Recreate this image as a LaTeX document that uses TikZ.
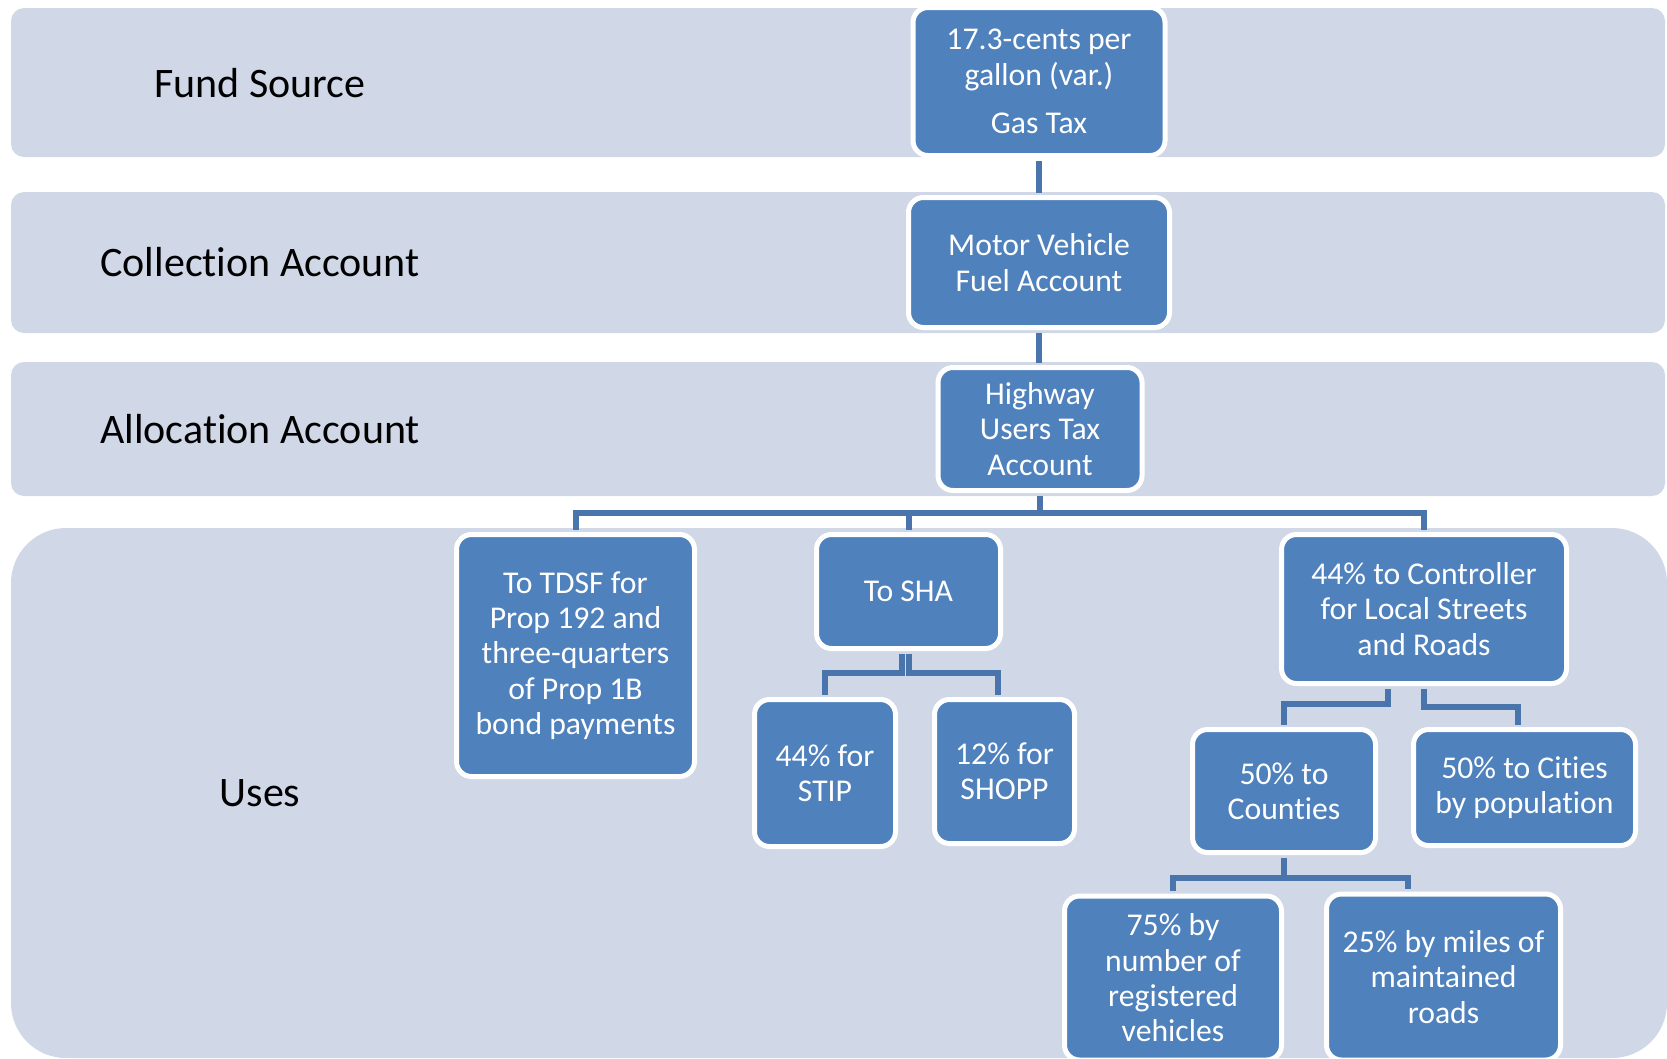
\documentclass[tikz,border=0pt]{standalone}
\usepackage{fontspec}
\setmainfont{Carlito}[RawFeature={-liga;-clig;-dlig;-calt}]
\definecolor{bandfill}{HTML}{D0D8E8}
\definecolor{boxfill}{HTML}{4F81BD}
\definecolor{linkblue}{HTML}{4A74AC}
\tikzset{
	band/.style={fill=bandfill,rounded corners=13},
	link/.style={draw=linkblue,line width=6,shorten <=2.5pt,shorten >=2.5pt},
}
\begin{document}
\begin{tikzpicture}[x=1pt,y=-1pt]
			\useasboundingbox (0,0) rectangle (1667,1058);
			% rows
			\fill[band] (11,8) rectangle (1665,157);
			\fill[band] (11,192) rectangle (1665,333);
			\fill[band] (11,362) rectangle (1665,496);
			\fill[band,rounded corners=55] (11,528) rectangle (1667,1058);
			\begin{scope}[every node/.style={text=black,font=\fontsize{42}{50}\selectfont}]
				\node (lfund) at (260,83) {Fund Source};
				\node (lcoll) at (260,262) {Collection Account};
				\node (lalloc) at (260,429) {Allocation Account};
				\node (luses) at (260,793) {Uses};
			\end{scope}
			\begin{scope}[every node/.style={rectangle,rounded corners=15,draw=white,line width=5,fill=boxfill,text=white,align=center,inner sep=0,font=\fontsize{31.7}{35.3}\selectfont}]
				\node[minimum width=252,minimum height=148] (gas) at (1039,81.5) {17.3-cents per\\gallon (var.)\\[13pt]Gas Tax};
				\node[minimum width=261,minimum height=130] (mvfa) at (1039,262.5) {Motor Vehicle\\Fuel Account};
				\node[minimum width=204,minimum height=123] (huta) at (1040,429) {Highway\\Users Tax\\Account};
				\node[minimum width=238,minimum height=242] (tdsf) at (575.5,655.5) {To TDSF for\\Prop 192 and\\three-quarters\\of Prop 1B\\bond payments};
				\node[minimum width=184,minimum height=114] (sha) at (908.5,591.5) {To SHA};
				\node[minimum width=285,minimum height=149] (ctrl) at (1424,609) {44\% to Controller\\for Local Streets\\and Roads};
				\node[minimum width=141,minimum height=147] (stip) at (825,773) {44\% for\\STIP};
				\node[minimum width=140,minimum height=144] (shopp) at (1004.5,771.5) {12\% for\\SHOPP};
				\node[minimum width=183,minimum height=123] (cnty) at (1284,791) {50\% to\\Counties};
				\node[minimum width=222,minimum height=116] (city) at (1524.5,787.5) {50\% to Cities\\by population};
				\node[minimum width=217,minimum height=164] (veh) at (1173,978) {75\% by\\number of\\registered\\vehicles};
				\node[minimum width=234,minimum height=166] (miles) at (1443.5,977) {25\% by miles of\\maintained\\roads};
			\end{scope}
			% connectors
			\draw[link] (gas.south) -- (gas.south |- mvfa.north);
			\draw[link] (mvfa.south) -- (mvfa.south |- huta.north);
			\draw[link] (huta.south) -- ++(0,20) -| (tdsf.north);
			\draw[link] (huta.south) -- ++(0,20) -| (sha.north);
			\draw[link] (huta.south) -- ++(0,20) -| (ctrl.north);
			\draw[link] ([xshift=-7]sha.south) -- ++(0,22) -| (stip.north);
			\draw[link] (sha.south) -- ++(0,22) -| ([xshift=-7]shopp.north);
			\draw[link] ([xshift=-36]ctrl.south) -- ++(0,18) -| (cnty.north);
			\draw[link] (ctrl.south) -- ++(0,21) -| ([xshift=-7]city.north);
			\draw[link] (cnty.south) -- ++(0,23) -| (veh.north);
			\draw[link] (cnty.south) -- ++(0,23) -| ([xshift=-36]miles.north);
		\end{tikzpicture}
\end{document}
